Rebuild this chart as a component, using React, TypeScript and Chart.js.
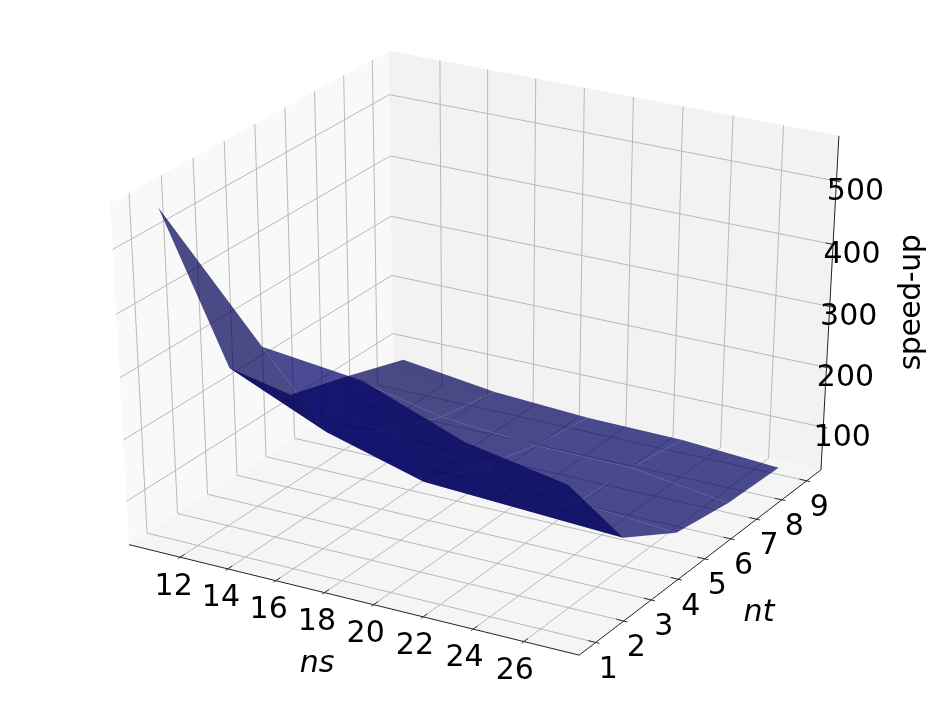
import React, { useEffect, useRef } from "react";
import { Chart, registerables } from "chart.js";

Chart.register(...registerables);

// ---- data ----
const nsValues = [11, 15, 19, 23, 27];
const ntValues = [1, 3, 5, 7, 9];
// speed-up, one row for each nt, one column for each ns
const speedNt1 = [557, 376, 358, 298, 268];
const speedNt3 = [248, 179, 134, 126, 118];
const speedNt5 = [143, 117, 93, 72, 60];
const speedNt7 = [114, 80, 67, 66, 44];
const speedNt9 = [82, 61, 52, 50, 39];
const speedRows = [speedNt1, speedNt3, speedNt5, speedNt7, speedNt9];

const nsTicks = [12, 14, 16, 18, 20, 22, 24, 26];
const ntTicks = [1, 2, 3, 4, 5, 6, 7, 8, 9];
const speedTicks = [100, 200, 300, 400, 500];

const nsLimits = [10.2, 27.8];
const ntLimits = [0.6, 9.4];
const speedLimits = [38.5, 559.5];

// ---- styling of facets: blue level per facet ----
const facetShade = [
  [0.68, 0.8, 0.72, 0.72],
  [0.7, 0.7, 0.74, 0.75],
  [0.7, 0.72, 0.76, 0.76],
  [0.68, 0.72, 0.76, 0.76],
];

// ---- view: elevation 30, azimuth -60, distance 10 ----
const el = (30 * Math.PI) / 180;
const az = (-60 * Math.PI) / 180;
const n3 = [Math.cos(el) * Math.cos(az), Math.cos(el) * Math.sin(az), Math.sin(el)];
const u3 = [-Math.sin(az), Math.cos(az), 0];
const v3 = [
  n3[1] * u3[2] - n3[2] * u3[1],
  n3[2] * u3[0] - n3[0] * u3[2],
  n3[0] * u3[1] - n3[1] * u3[0],
];
const dot = (a: number[], b: number[]) => a[0] * b[0] + a[1] * b[1] + a[2] * b[2];
const PANE = 1 / 48;

// norm coordinates (0..1 between limits)
const nx = (v: number) => (v - nsLimits[0]) / (nsLimits[1] - nsLimits[0]);
const ny = (v: number) => (v - ntLimits[0]) / (ntLimits[1] - ntLimits[0]);
const nz = (v: number) => (v - speedLimits[0]) / (speedLimits[1] - speedLimits[0]);

function projN(X: number, Y: number, Z: number) {
  const q = [X - 0.5, Y - 0.5, Z - 0.5];
  const w = 10 - dot(n3, q);
  return { x: 480.6 + (4988 * dot(u3, q)) / w, y: 342.2 - (3741 * dot(v3, q)) / w, w };
}

const LO = -PANE;
const HI = 1 + PANE;

const line = (pts: { x: number; y: number }[], color: string, width: number) => ({
  data: pts.map((p) => ({ x: p.x, y: p.y })),
  showLine: true,
  borderColor: color,
  borderWidth: width,
  pointRadius: 0,
  fill: false,
  tension: 0,
  clip: false,
});

const poly = (pts: { x: number; y: number }[], color: string) => ({
  data: [...pts, pts[0]].map((p) => ({ x: p.x, y: p.y })),
  showLine: true,
  borderWidth: 0,
  borderColor: "rgba(0,0,0,0)",
  backgroundColor: color,
  pointRadius: 0,
  fill: "shape",
  tension: 0,
  clip: false,
});

function buildDatasets() {
  const out: any[] = [];
  // panes
  out.push(
    poly(
      [projN(LO, LO, LO), projN(LO, HI, LO), projN(LO, HI, HI), projN(LO, LO, HI)],
      "#f9f9f9"
    )
  );
  out.push(
    poly(
      [projN(LO, HI, LO), projN(HI, HI, LO), projN(HI, HI, HI), projN(LO, HI, HI)],
      "#f2f2f2"
    )
  );
  out.push(
    poly(
      [projN(LO, LO, LO), projN(HI, LO, LO), projN(HI, HI, LO), projN(LO, HI, LO)],
      "#f5f5f5"
    )
  );
  // grid
  const grid = "#b9b9b9";
  nsTicks.forEach((t) => {
    const X = nx(t);
    out.push(line([projN(X, LO, LO), projN(X, HI, LO), projN(X, HI, HI)], grid, 1));
  });
  ntTicks.forEach((t) => {
    const Y = ny(t);
    out.push(line([projN(HI, Y, LO), projN(LO, Y, LO), projN(LO, Y, HI)], grid, 1));
  });
  speedTicks.forEach((t) => {
    const Z = nz(t);
    out.push(line([projN(LO, LO, Z), projN(LO, HI, Z), projN(HI, HI, Z)], grid, 1));
  });
  // axis lines
  out.push(line([projN(LO, LO, LO), projN(HI, LO, LO)], "#222", 1));
  out.push(line([projN(HI, LO, LO), projN(HI, HI, LO)], "#222", 1));
  out.push(line([projN(HI, HI, LO), projN(HI, HI, HI)], "#222", 1));
  // ticks
  const D = 1 / 12;
  nsTicks.forEach((t) => {
    const X = nx(t);
    out.push(line([projN(X, LO - 0.1 * D, LO), projN(X, LO + 0.2 * D, LO)], "#333", 1));
  });
  ntTicks.forEach((t) => {
    const Y = ny(t);
    out.push(line([projN(HI + 0.1 * D, Y, LO), projN(HI - 0.2 * D, Y, LO)], "#333", 1));
  });
  speedTicks.forEach((t) => {
    const Z = nz(t);
    out.push(line([projN(HI + 0.1 * D, HI, Z), projN(HI - 0.2 * D, HI, Z)], "#333", 1));
  });
  // surface facets, far to near
  const facets: { pts: any[]; w: number; color: string }[] = [];
  for (let r = 0; r < ntValues.length - 1; r++) {
    for (let c = 0; c < nsValues.length - 1; c++) {
      const corner = (rr: number, cc: number) =>
        projN(nx(nsValues[cc]), ny(ntValues[rr]), nz(speedRows[rr][cc]));
      const pts = [corner(r, c), corner(r, c + 1), corner(r + 1, c + 1), corner(r + 1, c)];
      const w = pts.reduce((s, p) => s + p.w, 0) / 4;
      const blue = Math.round(128 * facetShade[r][c]);
      facets.push({ pts, w, color: `rgba(0,0,${blue},0.7)` });
    }
  }
  facets.sort((a, b) => b.w - a.w);
  facets.forEach((f) => out.push(poly(f.pts, f.color)));
  // Chart.js paints the first dataset on top
  return out.reverse();
}

const FONT = "'DejaVu Sans'";
const textPlugin = {
  id: "axisText",
  afterDraw(chart: any) {
    const ctx = chart.ctx;
    const sx = chart.scales.x;
    const sy = chart.scales.y;
    const put = (s: string, x: number, y: number, font: string, rot = 0, spacing = "0px") => {
      ctx.save();
      ctx.translate(sx.getPixelForValue(x), sy.getPixelForValue(y));
      ctx.rotate(rot);
      ctx.font = font;
      ctx.letterSpacing = spacing;
      ctx.fillStyle = "#000";
      ctx.textAlign = "center";
      ctx.textBaseline = "middle";
      ctx.fillText(s, 0, 0);
      ctx.restore();
    };
    const f = `30px ${FONT}`;
    nsTicks.forEach((t, i) => {
      const p = projN(nx(t), LO, LO);
      put(String(t), p.x - 6.5 - (i * 2.5) / 7, p.y + 29.5, f);
    });
    ntTicks.forEach((t) => {
      const p = projN(HI, ny(t), LO);
      put(String(t), p.x + 12.5, p.y + 27.5, f);
    });
    speedTicks.forEach((t) => {
      const p = projN(HI, HI, nz(t));
      put(String(t), p.x + 19, p.y + 11, f);
    });
    const it = `italic 30px ${FONT}`;
    put("ns", 317, 664, it);
    put("nt", 759, 613, it);
    put("speed-up", 912, 302.5, f, -Math.PI / 2, "-0.5px");
  },
};

export default function App() {
  const ref = useRef<HTMLCanvasElement | null>(null);
  useEffect(() => {
    if (!ref.current) return;
    const chart = new Chart(ref.current, {
      type: "scatter",
      data: { datasets: buildDatasets() },
      options: {
        animation: false,
        responsive: false,
        devicePixelRatio: 1,
        events: [],
        layout: { padding: 0 },
        plugins: { legend: { display: false }, tooltip: { enabled: false } },
        scales: {
          x: { type: "linear", min: 0, max: 935, display: false },
          y: { type: "linear", min: 0, max: 705, reverse: true, display: false },
        },
      },
      plugins: [textPlugin],
    } as any);
    return () => chart.destroy();
  }, []);
  return (
    <div style={{ position: "absolute", left: 0, top: 0, width: 935, height: 705 }}>
      <canvas ref={ref} width={935} height={705} style={{ display: "block" }} />
    </div>
  );
}
